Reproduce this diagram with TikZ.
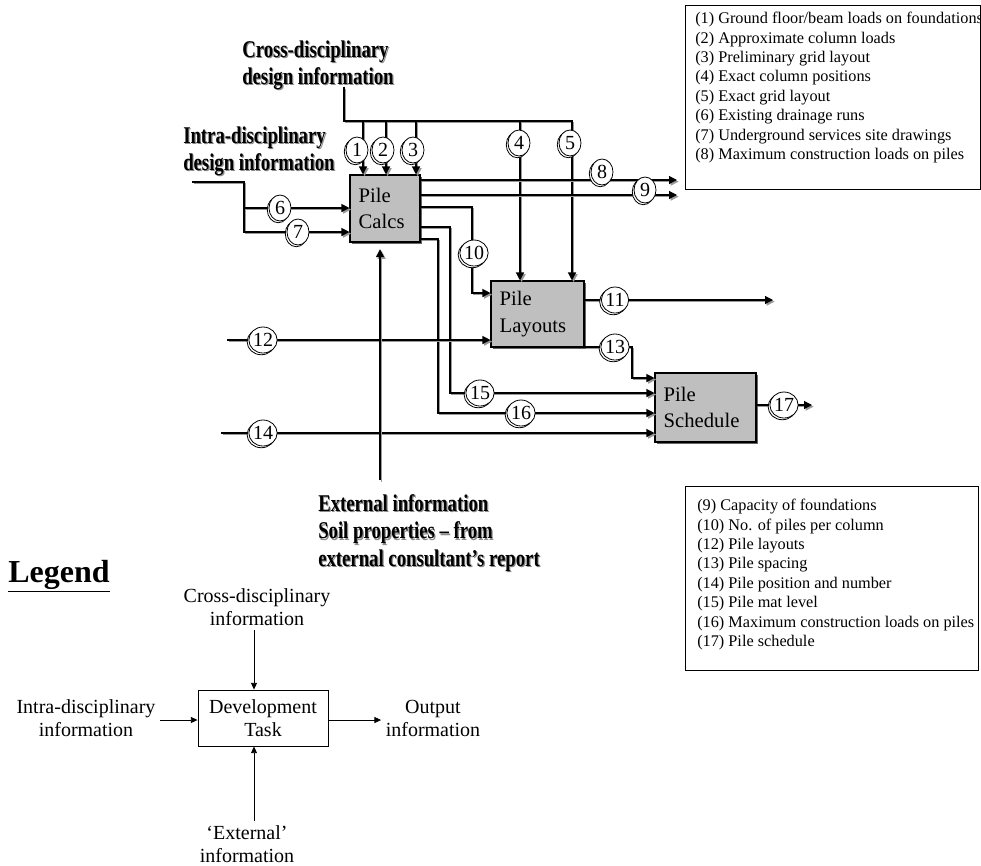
\documentclass[tikz,border=0pt]{standalone}
\usepackage{fontspec}
\setmainfont{Liberation Serif}
\usetikzlibrary{arrows.meta,shapes.geometric,shadows}
\newcommand{\cx}[1]{\scalebox{0.78}[1]{#1}}
\tikzset{
  sh/.style={preaction={draw=black!40, line width=1pt, transform canvas={shift={(1.2pt,-1.2pt)}}}},
  flow/.style={draw=black, line width=0.9pt, sh},
  arr/.style={-{Triangle[length=6pt,width=6pt]}},
  task/.style={draw=black, line width=0.8pt, fill=black!25,
    drop shadow={shadow xshift=1.6pt, shadow yshift=-1.6pt, fill=black!60, opacity=1},
    align=left, inner xsep=6.5pt, inner ysep=0pt, font=\fontsize{15.5}{20}\selectfont},
  num/.style={ellipse, draw=black, line width=0.6pt, fill=white, minimum width=16.5pt,
    minimum height=19.5pt, inner sep=0pt,
    general shadow={shadow xshift=-1.3pt, shadow yshift=-1.3pt, draw=black, line width=0.6pt, fill=white},
    font=\fontsize{15}{15}\selectfont},
  boldlab/.style={align=left, font=\fontsize{18}{20.5}\selectfont\bfseries, inner sep=0pt, anchor=west},
  listbox/.style={draw=black, line width=0.6pt, anchor=north west, inner sep=0pt},
  listtxt/.style={align=left, inner sep=0pt, anchor=north west, font=\fontsize{12.2}{14.55}\selectfont},
  legtxt/.style={align=center, font=\fontsize{15}{17.25}\selectfont},
  legbox/.style={draw=black, line width=0.7pt, fill=white, align=center, minimum width=97.5pt,
    minimum height=42pt, font=\fontsize{15}{17.25}\selectfont},
  legarr/.style={draw=black, line width=0.6pt, -{Triangle[length=5pt,width=4.5pt]}}
}
\newcommand{\shadowlabel}[3]{%
  \node[boldlab, text=black!45] (#1s) at ([shift={(0.9pt,-0.9pt)}]#2) {#3};
  \node[boldlab] (#1) at (#2) {#3};}
\begin{document}
\begin{tikzpicture}[x=0.75pt,y=-0.75pt]
\useasboundingbox (0,0) rectangle (981,865);

% task boxes
\node[task, minimum width=52.5pt, text width=39.5pt, minimum height=50.25pt] (calcs) at (385,208.5) {Pile\\Calcs};
\node[task, minimum width=69.75pt, text width=56.75pt, minimum height=49.5pt] (layouts) at (537.5,314) {Pile\\Layouts};
\node[task, minimum width=75.75pt, text width=62.75pt, minimum height=51.75pt] (sched) at (705.5,407.5) {Pile\\Schedule};

% coordinates
\coordinate (crossend) at (344,87);
\coordinate (j1) at (363,121);
\coordinate (j2) at (386,121);
\coordinate (j3) at (416,121);
\coordinate (j4) at (520,121);
\coordinate (j5) at (572,121);
\coordinate (intraend) at (192,182);
\coordinate (ib) at (244,208);
\coordinate (i7) at (244,232);
\coordinate (e8) at (677,180);
\coordinate (e9) at (677,195);
\coordinate (e11) at (773,300);
\coordinate (e17) at (812,405);
\coordinate (s12) at (227,340);
\coordinate (s14) at (221,433);
\coordinate (extend) at (380,480);

% cross-disciplinary
\draw[flow,arr] (crossend) |- (j5) -- (j5 |- layouts.north);
\draw[flow,arr] (j1) -- (j1 |- calcs.north);
\draw[flow,arr] (j2) -- (j2 |- calcs.north);
\draw[flow,arr] (j3) -- (j3 |- calcs.north);
\draw[flow,arr] (j4) -- (j4 |- layouts.north);

% intra-disciplinary
\draw[flow,arr] (intraend) -| (i7) -- (i7 -| calcs.west);
\draw[flow,arr] (ib) -- (ib -| calcs.west);

% outputs of pile calcs
\draw[flow,arr] (calcs.east |- e8) -- (e8);
\draw[flow,arr] (calcs.east |- e9) -- (e9);
\draw[flow,arr] (calcs.east |- 0,207) -| (472,293) -- (layouts.west |- 0,293);
\draw[flow,arr] (calcs.east |- 0,227) -| (450,393) -- (sched.west |- 0,393);
\draw[flow,arr] (calcs.east |- 0,239) -| (438,413) -- (sched.west |- 0,413);

% layouts
\draw[flow,arr] (layouts.east |- e11) -- (e11);
\draw[flow,arr] (layouts.east |- 0,347) -| (632,378) -- (sched.west |- 0,378);
\draw[flow,arr] (s12) -- (s12 -| layouts.west);
\draw[flow,arr] (s14) -- (s14 -| sched.west);
\draw[flow,arr] (sched.east |- e17) -- (e17);

% external
\draw[flow,arr] (extend) -- ([yshift=-5pt]extend |- calcs.south);

% number labels
\node[num] (n1) at (357,150) {1};
\node[num] (n2) at (383,150) {2};
\node[num] (n3) at (413,150) {3};
\node[num] (n4) at (519,143) {4};
\node[num] (n5) at (570,143) {5};
\node[num] (n6) at (280,208) {6};
\node[num] (n7) at (298,232) {7};
\node[num] (n8) at (602,172) {8};
\node[num] (n9) at (645,190) {9};
\node[num] (n10) at (474,253) {10};
\node[num] (n11) at (615,300) {11};
\node[num] (n12) at (263,340) {12};
\node[num] (n13) at (615,347) {13};
\node[num] (n14) at (263,433) {14};
\node[num] (n15) at (480,393) {15};
\node[num] (n16) at (521,413) {16};
\node[num] (n17) at (784,405) {17};

% bold shadowed labels
\shadowlabel{crosslab}{242,65}{\cx{Cross-disciplinary}\\\cx{design information}}
\shadowlabel{intralab}{183,151}{\cx{Intra-disciplinary}\\\cx{design information}}
\shadowlabel{extlab}{318,533}{\cx{External information}\\\cx{Soil properties -- from}\\\cx{external consultant’s report}}

% lists
\node[listbox, minimum width=221.25pt, minimum height=138pt] (list1) at (685,5) {};
\node[listtxt] (list1t) at (695,12) {(1) Ground floor/beam loads on foundations\\(2) Approximate column loads\\(3) Preliminary grid layout\\(4) Exact column positions\\(5) Exact grid layout\\(6) Existing drainage runs\\(7) Underground services site drawings\\(8) Maximum construction loads on piles};
\node[listbox, minimum width=219.75pt, minimum height=138pt] (list2) at (685,486) {};
\node[listtxt] (list2t) at (697,499) {(9) Capacity of foundations\\(10) No. of piles per column\\(12) Pile layouts\\(13) Pile spacing\\(14) Pile position and number\\(15) Pile mat level\\(16) Maximum construction loads on piles\\(17) Pile schedule};

% legend
\node[font=\fontsize{24}{24}\selectfont\bfseries, anchor=base west, inner sep=0pt] (legend) at (8,582) {\underline{Legend}};
\node[legbox] (dev) at (263,718) {Development\\Task};
\node[legtxt] (lcross) at (257,607) {Cross-disciplinary\\information};
\node[legtxt] (lintra) at (86,718) {Intra-disciplinary\\information};
\node[legtxt] (lout) at (433,718) {Output\\information};
\node[legtxt] (lext) at (247,844) {‘External’\\information};
\draw[legarr] (254,0 |- lcross.south) -- (254,0 |- dev.north);
\draw[legarr] (lintra.east |- 0,720) -- (dev.west |- 0,720);
\draw[legarr] (dev.east |- 0,720) -- (lout.west |- 0,720);
\draw[legarr] (254,0 |- lext.north) -- (254,0 |- dev.south);
\end{tikzpicture}
\end{document}
